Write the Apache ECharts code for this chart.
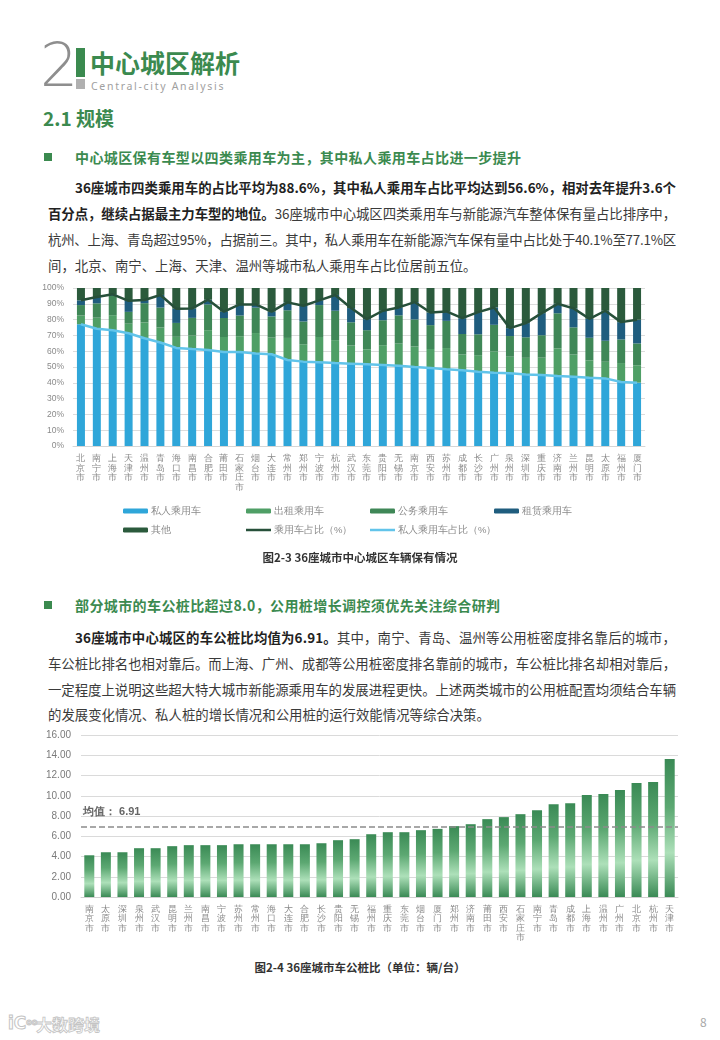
<!DOCTYPE html>
<html><head><meta charset="utf-8">
<script src="https://cdn.jsdelivr.net/npm/echarts@6/dist/echarts.min.js"></script>
<style>
body{margin:0;width:720px;height:1040px;background:#fff;position:relative;overflow:hidden;font-family:"Noto Sans CJK SC","Noto Sans",sans-serif;}
.abs{position:absolute;white-space:nowrap;}
.ln{position:absolute;left:48px;width:628px;font-size:13.4px;color:#3a3a3a;line-height:20px;height:20px;white-space:nowrap;}
.ln.first{left:75px;width:601px;}
.ln b{color:#222;}
.hd{position:absolute;left:75px;font-size:14px;font-weight:bold;color:#3b8a4f;line-height:20px;white-space:nowrap;letter-spacing:0.4px;}
.sq{position:absolute;left:44px;width:8px;height:8px;background:#3b8a4f;}
.cap{position:absolute;left:0;width:720px;text-align:center;font-size:11.5px;font-weight:bold;color:#333;line-height:16px;}
</style></head>
<body>
<div class="abs" style="left:40px;top:30px;font-family:'DejaVu Sans',sans-serif;font-size:60px;line-height:70px;color:#8e8e8e;font-weight:200;">2</div>
<div class="abs" style="left:76px;top:48px;width:9px;height:29px;background:#3b8a4f;"></div>
<div class="abs" style="left:76px;top:79px;width:9px;height:10px;background:#b0b0b0;"></div>
<div class="abs" style="left:90px;top:47px;font-size:25px;line-height:30px;font-weight:bold;color:#3b8a4f;">中心城区解析</div>
<div class="abs" style="left:91px;top:79px;font-family:'Noto Sans',sans-serif;font-size:10.5px;line-height:14px;letter-spacing:1.7px;color:#a0a0a0;">Central-city Analysis</div>
<div class="abs" style="left:43px;top:106px;font-size:19px;line-height:24px;font-weight:bold;color:#3b8a4f;">2.1 规模</div>

<div class="sq" style="top:153px;"></div>
<div class="hd" style="top:147px;">中心城区保有车型以四类乘用车为主，其中私人乘用车占比进一步提升</div>
<div class="ln first j" style="top:177px;"><span><b>36座城市四类乘用车的占比平均为88.6%，其中私人乘用车占比平均达到56.6%，相对去年提升3.6个</b></span></div>
<div class="ln j" style="top:203px;"><span><b>百分点，继续占据最主力车型的地位。</b>36座城市中心城区四类乘用车与新能源汽车整体保有量占比排序中，</span></div>
<div class="ln j" style="top:229px;"><span>杭州、上海、青岛超过95%，占据前三。其中，私人乘用车在新能源汽车保有量中占比处于40.1%至77.1%区</span></div>
<div class="ln" style="top:255px;"><span>间，北京、南宁、上海、天津、温州等城市私人乘用车占比位居前五位。</span></div>

<div id="c1" style="position:absolute;left:0;top:280px;width:720px;height:270px;"></div>
<div class="cap" style="top:549px;">图2-3 36座城市中心城区车辆保有情况</div>

<div class="sq" style="top:601px;"></div>
<div class="hd" style="top:595px;">部分城市的车公桩比超过8.0，公用桩增长调控须优先关注综合研判</div>
<div class="ln first j" style="top:627px;"><span><b>36座城市中心城区的车公桩比均值为6.91。</b>其中，南宁、青岛、温州等公用桩密度排名靠后的城市，</span></div>
<div class="ln j" style="top:653px;"><span>车公桩比排名也相对靠后。而上海、广州、成都等公用桩密度排名靠前的城市，车公桩比排名却相对靠后，</span></div>
<div class="ln j" style="top:679px;"><span>一定程度上说明这些超大特大城市新能源乘用车的发展进程更快。上述两类城市的公用桩配置均须结合车辆</span></div>
<div class="ln" style="top:704px;"><span>的发展变化情况、私人桩的增长情况和公用桩的运行效能情况等综合决策。</span></div>

<div id="c2" style="position:absolute;left:0;top:720px;width:720px;height:230px;"></div>
<div class="cap" style="top:959px;">图2-4 36座城市车公桩比（单位：辆/台）</div>

<div class="abs" style="left:8px;top:1012px;font-family:'DejaVu Sans',sans-serif;font-size:17px;line-height:22px;font-weight:bold;color:#fff;-webkit-text-stroke:1px #c4c4c4;">iC<span style="font-size:8px;vertical-align:top;">oo</span></div>
<div class="abs" style="left:36px;top:1013px;font-size:16px;line-height:22px;font-weight:bold;color:#fff;-webkit-text-stroke:0.8px #c4c4c4;">大数跨境</div>
<div class="abs" style="left:700px;top:1013px;font-size:12px;line-height:18px;color:#a8a8a8;">8</div>

<script>
// justify full lines by letter-spacing (layout only)
document.querySelectorAll('.ln.j').forEach(function(el){
  var sp = el.querySelector('span');
  var w = sp.getBoundingClientRect().width;
  var n = sp.textContent.length;
  var target = el.getBoundingClientRect().width;
  sp.style.letterSpacing = ((target - w) / n) + 'px';
});

// ---------- Figure 2-3 data ----------
const cities1 = ['北京','南宁','上海','天津','温州','青岛','海口','南昌','合肥','莆田','石家庄','烟台','大连','常州','郑州','宁波','杭州','武汉','东莞','贵阳','无锡','南京','西安','苏州','成都','长沙','广州','泉州','深圳','重庆','济南','兰州','昆明','太原','福州','厦门'];
const privateCars = [77.1,74.2,73.3,71.4,68.2,65.5,62.1,61.4,60.8,59.5,59.5,58.5,58.1,54.4,53.4,53.0,52.5,52.1,51.7,51.3,50.8,50.0,49.4,48.5,47.9,47.0,46.4,46.0,45.3,44.9,44.3,43.9,43.2,42.8,40.5,40.1];
const taxiCars = [5.5,7.0,9.5,6.0,10.0,9.5,7.0,8.5,12.5,9.5,10.0,13.0,10.5,14.0,11.0,16.0,14.5,11.5,9.5,12.5,14.0,13.0,12.0,13.5,10.0,10.5,13.5,10.5,10.5,11.0,17.5,14.0,11.0,10.5,12.0,11.0];
const officialCars = [6.6,9.1,12.2,7.5,12.2,12.6,8.8,11.2,16.3,12.0,13.1,16.1,13.4,17.5,14.4,20.2,18.6,14.7,12.1,15.8,17.9,17.1,15.1,17.2,13.0,13.2,16.8,13.1,13.0,14.2,22.2,17.2,14.3,13.3,14.9,13.8];
const rentalCars = [3,4,1,7,2,8,9,6,3,4,7,2,3,5,10,3,10,9,7,6,5,11,8,6,10,14,11,5,9,14,6,12,12,19,11,15];
const otherCars = [7.8,5.7,4.0,8.1,7.6,4.4,13.1,12.9,7.4,15.0,10.4,10.4,15.0,9.1,11.2,7.8,4.4,12.7,19.7,14.4,12.3,8.9,15.5,14.8,19.1,15.3,12.3,25.4,22.2,15.9,10.0,12.9,19.5,14.4,21.6,20.1];
const passengerShare = [92.2,94.3,96.0,91.9,92.4,95.6,86.9,87.1,92.6,85.0,89.6,89.6,85.0,90.9,88.8,92.2,95.6,87.3,80.3,85.6,87.7,91.1,84.5,85.2,80.9,84.7,87.7,74.6,77.8,84.1,90.0,87.1,80.5,85.6,78.4,79.9];
const privateShare = [77.1,74.2,73.3,71.4,68.2,65.5,62.1,61.4,60.8,59.5,59.5,58.5,58.1,54.4,53.4,53.0,52.5,52.1,51.7,51.3,50.8,50.0,49.4,48.5,47.9,47.0,46.4,46.0,45.3,44.9,44.3,43.9,43.2,42.8,40.5,40.1];
const yTicks1 = {min:0, max:100, step:10};

// ---------- Figure 2-4 data ----------
const cities2 = ['南京','太原','深圳','泉州','武汉','昆明','兰州','南昌','宁波','苏州','常州','海口','大连','合肥','长沙','贵阳','无锡','福州','重庆','东莞','烟台','厦门','郑州','济南','莆田','西安','石家庄','南宁','青岛','成都','上海','温州','广州','北京','杭州','天津'];
const pileRatio = [4.12,4.42,4.42,4.82,4.82,5.02,5.12,5.12,5.12,5.21,5.21,5.21,5.21,5.21,5.31,5.61,5.71,6.20,6.40,6.40,6.60,6.73,7.00,7.19,7.69,7.89,8.18,8.58,9.17,9.27,10.07,10.17,10.56,11.25,11.35,13.63];
const meanRatio = 6.91;
const yTicks2 = {min:0, max:16, step:2};

const vertLabel = v => (v + '市').split('').join('\n');
const COL = {priv:'#2fa6d9', taxi:'#4f9f66', off:'#3f8757', rent:'#1f5d7e', other:'#2b5a3c', pline:'#27503a', privLine:'#62c4ea'};

const c1 = echarts.init(document.getElementById('c1'));
const legendBase = {itemWidth:25, itemHeight:5, itemGap:4, textStyle:{fontSize:9.5, color:'#8a8a8a', padding:[0,0,0,-2]}, selectedMode:false};
function lg(name, left, top, extra){ return Object.assign({}, legendBase, {data:[name], left:left, top:top}, extra||{}); }
c1.setOption({
  animation:false,
  grid:{left:73, right:75, top:8, bottom:104},
  xAxis:{type:'category', data:cities1,
    axisLine:{show:true, lineStyle:{color:'#d6d6d6'}}, axisTick:{show:false},
    axisLabel:{interval:0, fontSize:9, lineHeight:9.5, color:'#8a8a8a', formatter:vertLabel, margin:8}},
  yAxis:{type:'value', min:yTicks1.min, max:yTicks1.max, interval:yTicks1.step,
    axisLabel:{formatter:'{value}%', fontSize:8.5, color:'#8a8a8a', margin:9},
    splitLine:{lineStyle:{color:'#dcdcdc'}}, axisLine:{show:false}, axisTick:{show:false}},
  legend:[
    lg('私人乘用车',118,221), lg('出租乘用车',241,221), lg('公务乘用车',365,221), lg('租赁乘用车',489,221),
    lg('其他',118,240), lg('乘用车占比（%）',241,240,{icon:'rect', itemHeight:2.5}), lg('私人乘用车占比（%）',365,240,{icon:'rect', itemHeight:2.5})
  ],
  series:[
    {name:'私人乘用车', type:'bar', stack:'s', barWidth:8, data:privateCars, itemStyle:{color:COL.priv}},
    {name:'出租乘用车', type:'bar', stack:'s', barWidth:8, data:taxiCars, itemStyle:{color:COL.taxi}},
    {name:'公务乘用车', type:'bar', stack:'s', barWidth:8, data:officialCars, itemStyle:{color:COL.off}},
    {name:'租赁乘用车', type:'bar', stack:'s', barWidth:8, data:rentalCars, itemStyle:{color:COL.rent}},
    {name:'其他', type:'bar', stack:'s', barWidth:8, data:otherCars, itemStyle:{color:COL.other}},
    {name:'乘用车占比（%）', type:'line', data:passengerShare, symbol:'none', lineStyle:{color:COL.pline, width:2.5}, itemStyle:{color:COL.pline}, z:5},
    {name:'私人乘用车占比（%）', type:'line', data:privateShare, symbol:'none', lineStyle:{color:COL.privLine, width:2.5}, itemStyle:{color:COL.privLine}, z:5}
  ]
});

const c2 = echarts.init(document.getElementById('c2'));
c2.setOption({
  animation:false,
  grid:{left:81, right:42, top:15, bottom:53},
  xAxis:{type:'category', data:cities2,
    axisLine:{show:true, lineStyle:{color:'#d0d0d0'}}, axisTick:{show:false},
    axisLabel:{interval:0, fontSize:9, lineHeight:9.3, color:'#8a8a8a', formatter:vertLabel, margin:8}},
  yAxis:{type:'value', min:yTicks2.min, max:yTicks2.max, interval:yTicks2.step,
    axisLabel:{formatter:v => v.toFixed(2), fontSize:10, color:'#7a7a7a', margin:10},
    splitLine:{lineStyle:{color:'#dadada'}}, axisLine:{show:false}, axisTick:{show:false}},
  series:[{
    type:'bar', data:pileRatio, barWidth:10,
    itemStyle:{color:new echarts.graphic.LinearGradient(0,0,0,1,[
      {offset:0,color:'#3a8a55'},{offset:0.35,color:'#5ca872'},{offset:0.68,color:'#ade0b9'},{offset:1,color:'#3a8a55'}])},
    markLine:{silent:true, symbol:['none','none'],
      lineStyle:{type:'dashed', color:'#8c8c8c', width:1.5},
      label:{position:'insideStartTop', formatter:'均值： ' + meanRatio.toFixed(2), fontWeight:'bold', color:'#666', fontSize:11, distance:[2,10]},
      data:[{yAxis:meanRatio}]}
  }]
});
</script>
</body></html>
